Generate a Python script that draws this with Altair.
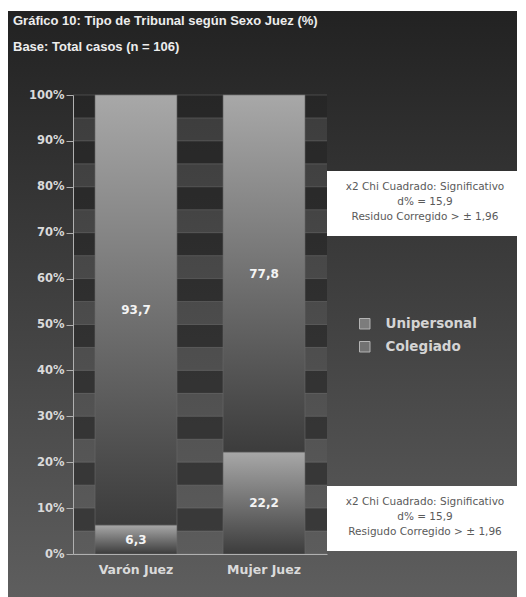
import altair as alt
import pandas as pd

# ---- data -------------------------------------------------------------
jueces = ["Varón Juez", "Mujer Juez"]
tipos_apilados = ["Colegiado", "Unipersonal"]      # bottom segment first
tipos_leyenda = ["Unipersonal", "Colegiado"]
colegiado = [6.3, 22.2]
unipersonal = [93.7, 77.8]

titulo = ["Gráfico 10: Tipo de Tribunal según Sexo Juez (%)",
          "Base: Total casos (n = 106)"]
nota_superior = ["x2 Chi Cuadrado: Significativo", "d% = 15,9",
                 "Residuo Corregido > ± 1,96"]
nota_inferior = ["x2 Chi Cuadrado: Significativo", "d% = 15,9",
                 "Resigudo Corregido > ± 1,96"]
marcas_y = list(range(0, 101, 10))

# ---- layout -----------------------------------------------------------
W, H = 254, 459
LEFT, TOP = 73, 95
TOTAL_W, TOTAL_H = 526, 597

filas = []
for i, juez in enumerate(jueces):
    base = 0.0
    for tipo, serie in zip(tipos_apilados, [colegiado, unipersonal]):
        v = serie[i]
        filas.append(dict(juez=juez, tipo=tipo, valor=v, inicio=base,
                          fin=base + v, medio=base + v / 2,
                          etiqueta=f"{v:.1f}".replace(".", ",")))
        base += v
barras = pd.DataFrame(filas)

bandas = pd.DataFrame({"desde": [m + 5 for m in marcas_y[:-1]],
                       "hasta": [m + 10 for m in marcas_y[:-1]]})
lineas = pd.DataFrame({"y": sorted(set(marcas_y + [m + 5 for m in marcas_y[:-1]]))})
uno = pd.DataFrame({"k": [0]})


def degradado(c0, c1):
    return alt.LinearGradient(gradient="linear", x1=0, x2=0, y1=0, y2=1,
                              stops=[alt.GradientStop(color=c0, offset=0),
                                     alt.GradientStop(color=c1, offset=1)])


escala_y = alt.Scale(domain=[0, 100], nice=False)
escala_x = alt.Scale(domain=jueces, paddingInner=0.36, paddingOuter=0.172)

# dark outer panel
panel = alt.Chart(uno).mark_rect(fill=degradado("#222222", "#5e5e5e")).encode(
    x=alt.value(8 - LEFT), x2=alt.value(517 - LEFT),
    y=alt.value(11 - TOP), y2=alt.value(TOTAL_H - TOP))

# plot area background with alternating bands
fondo = alt.Chart(uno).mark_rect(fill=degradado("#3c3c3c", "#5c5c5c")).encode(
    x=alt.value(0), x2=alt.value(W), y=alt.value(0), y2=alt.value(H))

franjas = alt.Chart(bandas).mark_rect(color="#000000", opacity=0.36).encode(
    x=alt.value(0), x2=alt.value(W),
    y=alt.Y("hasta:Q", scale=escala_y, axis=None), y2="desde:Q")

rejilla = alt.Chart(lineas).mark_rule(color="#8a8a8a", strokeWidth=0.8,
                                      opacity=0.45).encode(
    x=alt.value(0), x2=alt.value(W),
    y=alt.Y("y:Q", scale=escala_y, axis=None))

# stacked bars
estilo_eje = dict(labelColor="#dadada", labelFont="DejaVu Sans",
                  labelFontWeight="bold", domainColor="#b0b0b0",
                  tickColor="#b0b0b0", title=None, zindex=1)

columnas = alt.Chart(barras).mark_bar(
    fill=degradado("#a8a8a8", "#3c3c3c"), stroke="#6a6a6a", strokeWidth=0.6
).encode(
    x=alt.X("juez:N", scale=escala_x, sort=jueces,
            axis=alt.Axis(labelAngle=0, ticks=False, labelFontSize=12.5,
                          labelPadding=9, **estilo_eje)),
    y=alt.Y("inicio:Q", scale=escala_y,
            axis=alt.Axis(values=marcas_y, labelExpr="datum.value + '%'",
                          tickSize=7, labelFontSize=11.5, labelPadding=2,
                          grid=False, **estilo_eje)),
    y2="fin:Q",
)

etiquetas = alt.Chart(barras).mark_text(
    color="#f4f4f4", font="DejaVu Sans", fontWeight="bold", fontSize=12,
    baseline="middle"
).encode(
    x=alt.X("juez:N", scale=escala_x, sort=jueces),
    y=alt.Y("medio:Q", scale=escala_y),
    text="etiqueta:N",
)

# legend (symbols placed off-canvas, only the legend is visible)
leyenda = alt.Chart(pd.DataFrame({"tipo": tipos_leyenda})).mark_square(
    size=110, opacity=1
).encode(
    x=alt.value(-500), y=alt.value(-500),
    color=alt.Color("tipo:N",
                    scale=alt.Scale(domain=tipos_leyenda,
                                    range=["#7c7c7c", "#727272"]),
                    legend=alt.Legend(orient="none", legendX=285, legendY=222,
                                      title=None, symbolType="square",
                                      symbolSize=110, symbolStrokeColor="#b4b4b4",
                                      symbolStrokeWidth=1, labelColor="#d4d4d4",
                                      labelFont="DejaVu Sans",
                                      labelFontWeight="bold", labelFontSize=13.5,
                                      labelOffset=14, rowPadding=8, padding=0)),
)


# annotation boxes
def nota(lineas_texto, y_caja):
    caja = alt.Chart(uno).mark_rect(fill="#ffffff").encode(
        x=alt.value(327 - LEFT), x2=alt.value(523 - LEFT),
        y=alt.value(y_caja - TOP), y2=alt.value(y_caja + 65 - TOP))
    df = pd.DataFrame({"t": lineas_texto,
                       "py": [y_caja + 16 + 15 * i - TOP
                              for i in range(len(lineas_texto))]})
    texto = alt.Chart(df).mark_text(
        color="#5a5a5a", font="DejaVu Sans", fontSize=10.5, baseline="middle",
        align="center"
    ).encode(x=alt.value(425 - LEFT), y=alt.Y("py:Q", scale=None, axis=None),
             text="t:N")
    return caja + texto


# title lines
df_titulo = pd.DataFrame({"t": titulo, "py": [21 - TOP, 47 - TOP]})
encabezado = alt.Chart(df_titulo).mark_text(
    color="#ededed", font="Liberation Sans", fontWeight="bold", fontSize=13,
    align="left", baseline="middle"
).encode(x=alt.value(13 - LEFT), y=alt.Y("py:Q", scale=None, axis=None),
         text="t:N")

chart = alt.layer(
    panel, fondo, franjas, rejilla, columnas, etiquetas, leyenda,
    nota(nota_superior, 171), nota(nota_inferior, 486), encabezado
).resolve_scale(y="independent").properties(
    width=W, height=H, background="#ffffff",
    autosize=alt.AutoSizeParams(type="none"),
    padding={"left": LEFT, "top": TOP,
             "right": TOTAL_W - LEFT - W, "bottom": TOTAL_H - TOP - H},
).configure_view(stroke=None)

chart.save("out.html", embed_options={"renderer": "svg", "actions": False})
